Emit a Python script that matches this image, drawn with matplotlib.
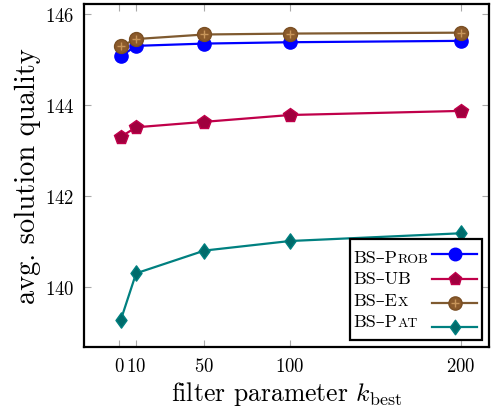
import matplotlib
matplotlib.use("Agg")
import matplotlib.pyplot as plt
from matplotlib.offsetbox import TextArea, HPacker, VPacker, DrawingArea, AnchoredOffsetbox
from matplotlib.lines import Line2D
from matplotlib.path import Path

plt.rcParams['font.family'] = ['cmr10', 'DejaVu Serif']
plt.rcParams['mathtext.fontset'] = 'cm'
plt.rcParams['axes.formatter.use_mathtext'] = True

k_values = [1, 10, 50, 100, 200]
x_ticks = [0, 10, 50, 100, 200]
y_ticks = [140, 142, 144, 146]
bs_prob = [145.07, 145.30, 145.35, 145.38, 145.41]
bs_ub = [143.30, 143.51, 143.63, 143.78, 143.87]
bs_ex = [145.29, 145.45, 145.55, 145.57, 145.59]
bs_pat = [139.27, 140.30, 140.80, 141.01, 141.18]

diamond = Path([(0, 1), (0.72, 0), (0, -1), (-0.72, 0), (0, 1)],
               [Path.MOVETO, Path.LINETO, Path.LINETO, Path.LINETO, Path.CLOSEPOLY])

series = [
    (("BS–P", "ROB"), bs_prob, dict(color='#0000ff', marker='o', mfc='#0000ff', mec='#0000ff', ms=9.5)),
    (("BS–UB", ""), bs_ub, dict(color='#c0004a', marker='p', mfc='#a0003e', mec='#c0004a', ms=10)),
    (("BS–E", "X"), bs_ex, dict(color='#7f5a30', marker='o', mfc='#8b5a2b', mec='#7a4f24', ms=10)),
    (("BS–P", "AT"), bs_pat, dict(color='#008080', marker=diamond, mfc='#006b6b', mec='#008080', ms=11)),
]

fig = plt.figure(figsize=(4.92, 4.14), dpi=100)
ax = fig.add_axes([0.1707, 0.1594, 0.8232, 0.8285])

for (lab, vals, st) in series:
    ax.plot(k_values, vals, lw=1.6, zorder=3, **st)
# dotted pattern on BS-Ex markers
ax.plot(k_values, bs_ex, ls='none', marker='+', ms=5.5, mew=1.0, color='#c8955a', zorder=4)

ax.set_xlim(-20.5, 216.5)
ax.set_ylim(138.68, 146.22)
ax.set_xticks(x_ticks)
ax.set_yticks(y_ticks)
ax.tick_params(direction='in', length=5, width=0.8, color='#aaaaaa',
               top=True, right=True, labelsize=13.5, pad=7)
for s in ax.spines.values():
    s.set_linewidth(1.6)
ax.set_xlabel(r'filter parameter $k_{\mathrm{best}}$', fontsize=18.5, labelpad=3)
ax.set_ylabel('avg. solution quality', fontsize=20.5, labelpad=3)

# custom legend with small caps
rows = []
for (lab, vals, st) in series:
    big, small = lab
    parts = [TextArea(big, textprops=dict(fontsize=13))]
    if small:
        parts.append(TextArea(small, textprops=dict(fontsize=10)))
    txt = HPacker(children=parts, align='baseline', pad=0, sep=0)
    da = DrawingArea(34, 15, 0, 0)
    da.add_artist(Line2D([1, 33], [6.5, 6.5], lw=1.6, color=st['color']))
    da.add_artist(Line2D([17], [6.5], marker=st['marker'], ms=st['ms'] * 0.95, mfc=st['mfc'], mec=st['mec'], ls='none'))
    if lab[1] == "X":
        da.add_artist(Line2D([17], [6.5], marker='+', ms=5.5, mew=1.0, color='#c8955a', ls='none'))
    rows.append((txt, da))

left_col = VPacker(children=[r[0] for r in rows], align='left', pad=0, sep=4.5)
right_col = VPacker(children=[r[1] for r in rows], align='left', pad=0, sep=2.5)
box = HPacker(children=[left_col, right_col], align='center', pad=0, sep=2)
anch = AnchoredOffsetbox(loc='lower right', child=box, pad=0.28, borderpad=0.5,
                         frameon=True, bbox_to_anchor=(1.0, 0.0),
                         bbox_transform=ax.transAxes)
anch.patch.set_edgecolor('black')
anch.patch.set_linewidth(1.6)
anch.patch.set_boxstyle('square', pad=0)
anch.zorder = 5
ax.add_artist(anch)

fig.savefig('out.png', dpi=100)
